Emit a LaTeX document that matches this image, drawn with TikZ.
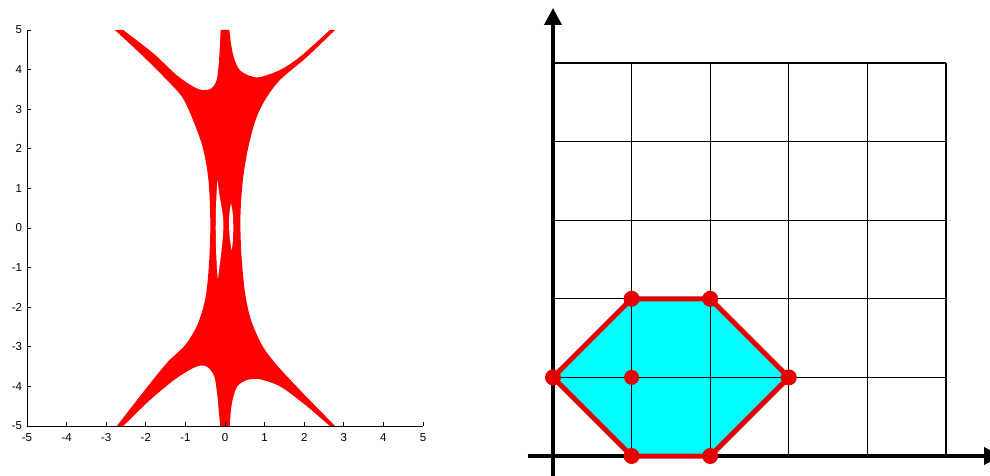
\documentclass[tikz,border=0pt]{standalone}
\usepackage{fontspec}
\setmainfont{Liberation Sans}
\usetikzlibrary{arrows.meta}
\definecolor{amred}{RGB}{255,0,0}
\definecolor{polyred}{RGB}{228,0,0}
\definecolor{cyanfill}{RGB}{0,255,255}
\tikzset{
  plotaxis/.style={line width=0.8pt, black},
  ticklabel/.style={inner sep=0pt, font=\fontsize{11.5}{14}\selectfont},
  gridline/.style={line width=1.1pt, black},
  mainaxis/.style={line width=3.6pt, black, -{Triangle[length=17pt,width=17pt]}},
  polyedge/.style={polyred, line width=5pt, line join=round},
  vdot/.style={polyred}
}
\begin{document}
\begin{tikzpicture}[x=1pt,y=-1pt]
\useasboundingbox (0,0) rectangle (990,476);
\fill[white] (0,0) rectangle (990,476);
% ---------------- left: amoeba plot ----------------
\begin{scope}[shift={(225,228)}, x=39.6pt, y=39.6pt]
\fill[amred]
  plot[smooth] coordinates {(-2.57,5) (-1.81,4.41) (-1.22,3.86) (-0.80,3.57) (-0.55,3.48) (-0.34,3.53) (-0.21,3.74) (-0.15,4.24) (-0.11,5)}
  -- plot[smooth] coordinates {(0.11,5) (0.16,4.6) (0.24,4.25) (0.38,3.98) (0.63,3.84) (0.88,3.81) (1.39,3.99) (1.89,4.32) (2.65,5)}
  -- plot[smooth] coordinates {(2.78,5) (2.07,4.32) (1.39,3.74) (1.02,3.25) (0.78,2.75) (0.58,2.0) (0.45,1.2) (0.39,0.3) (0.41,-0.6) (0.5,-1.6) (0.65,-2.3) (0.93,-2.95) (1.3,-3.45) (1.89,-4.09) (2.78,-5)}
  -- plot[smooth] coordinates {(2.65,-5) (1.98,-4.43) (1.39,-4.0) (0.88,-3.82) (0.55,-3.84) (0.31,-4.0) (0.19,-4.34) (0.14,-4.7) (0.12,-5)}
  -- plot[smooth] coordinates {(-0.12,-5) (-0.15,-4.7) (-0.19,-4.26) (-0.27,-3.75) (-0.46,-3.5) (-0.72,-3.5) (-1.22,-3.79) (-1.89,-4.34) (-2.57,-5)}
  -- plot[smooth] coordinates {(-2.73,-5) (-2.07,-4.15) (-1.47,-3.41) (-1.0,-2.95) (-0.7,-2.45) (-0.5,-1.8) (-0.41,-1.0) (-0.37,0) (-0.40,1.0) (-0.47,1.6) (-0.58,2.1) (-0.72,2.5) (-0.88,2.9) (-1.09,3.32) (-1.47,3.74) (-2.06,4.33) (-2.78,5)}
  -- cycle;
% holes
\fill[white] (-0.19,1.21) .. controls (-0.12,0.6) and (-0.03,0.35) .. (-0.04,0.05)
  .. controls (-0.05,-0.35) and (-0.12,-0.8) .. (-0.18,-1.3)
  .. controls (-0.25,-0.6) and (-0.25,0.5) .. cycle;
\fill[white] (0.15,0.63) .. controls (0.22,0.4) and (0.23,-0.2) .. (0.17,-0.56)
  .. controls (0.09,-0.2) and (0.08,0.3) .. cycle;
% axes
\draw[plotaxis] (-5,5) -- (-5,-5) -- (5,-5);
\foreach \v [count=\k] in {-5,...,5}{
  \draw[plotaxis] (\v,-5) -- (\v,-4.9);
  \draw[plotaxis] (-5,\v) -- (-4.9,\v);
  \node[ticklabel] (xl\k) at (\v,-5.30) {\v};
  \node[ticklabel, anchor=east] (yl\k) at (-5.12,\v) {\v};
}
\end{scope}
% ---------------- right: Newton polygon ----------------
\begin{scope}[shift={(553,456)}, x=78.6pt, y=78.6pt]
\coordinate (v1) at (0,1);
\coordinate (v2) at (1,2);
\coordinate (v3) at (2,2);
\coordinate (v4) at (3,1);
\coordinate (v5) at (2,0);
\coordinate (v6) at (1,0);
\coordinate (c) at (1,1);
\coordinate (ybot) at (0,-0.27);
\coordinate (ytop) at (0,5.70);
\coordinate (xleft) at (-0.32,0);
\coordinate (xright) at (5.70,0);
\fill[cyanfill] (v1) -- (v2) -- (v3) -- (v4) -- (v5) -- (v6) -- cycle;
\foreach \g in {1,...,5}{
  \draw[gridline] (\g,0) -- (\g,5);
  \draw[gridline] (0,\g) -- (5,\g);
}
\draw[mainaxis] (ybot) -- (ytop);
\draw[mainaxis] (xleft) -- (xright);
\draw[polyedge] (v1) -- (v2) -- (v3) -- (v4) -- (v5) -- (v6) -- cycle;
\foreach \p in {v1,v2,v3,v4,v5,v6}{
  \fill[vdot] (\p) circle (8pt);
}
\fill[vdot] (c) circle (7.5pt);
\end{scope}
\end{tikzpicture}
\end{document}
